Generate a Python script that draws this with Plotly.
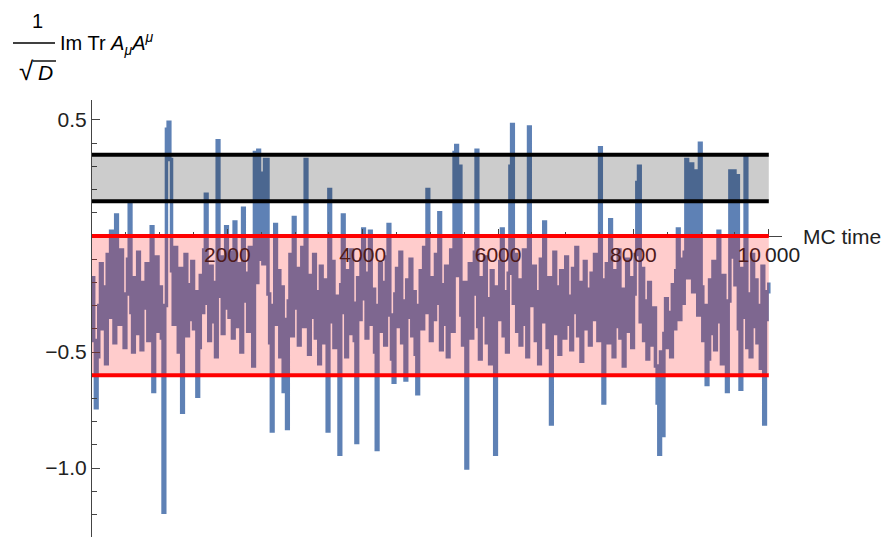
import plotly.graph_objects as go

step = 25
values = [
    -0.18, -0.45, -0.74, -0.52, -0.30, -0.12, -0.40, -0.22, -0.55, -0.08, -0.35, 0.02, -0.28, -0.46, 0.09, -0.15, -0.38, -0.06, -0.30, -0.48,
    -0.25, -0.10, 0.14, -0.33, -0.50, -0.18, -0.42, -0.07, -0.36, -0.49, -0.20, -0.31, -0.12, -0.45, -0.26, 0.04, -0.67, -0.34, -0.09, -0.41,
    -0.22, -0.44, -1.19, -0.30, 0.46, 0.49, 0.33, -0.15, -0.38, -0.05, -0.27, -0.50, -0.14, -0.76, -0.32, -0.08, -0.43, -0.21, -0.36, -0.11,
    -0.40, -0.24, -0.69, -0.48, -0.17, -0.33, -0.06, 0.18, -0.29, -0.45, -0.13, -0.37, -0.20, -0.52, 0.41, -0.26, -0.09, -0.42, -0.31, 0.04,
    -0.18, -0.35, -0.07, -0.44, 0.06, -0.23, -0.39, -0.12, -0.50, 0.12, -0.28, -0.16, -0.41, -0.05, -0.33, -0.56, 0.36, -0.20, 0.37, -0.10,
    0.27, -0.12, 0.33, 0.33, -0.25, -0.46, -0.84, -0.30, 0.05, -0.38, -0.15, -0.52, -0.22, -0.67, -0.36, -0.83, -0.28, -0.08, -0.43, 0.08,
    -0.31, -0.14, -0.47, -0.22, -0.05, -0.39, 0.33, -0.26, -0.51, -0.17, -0.35, -0.08, -0.44, -0.24, -0.55, -0.13, -0.32, -0.46, -0.19, -0.84,
    0.20, -0.37, -0.11, -0.48, -0.26, -0.40, -0.94, -0.21, 0.09, -0.33, -0.52, -0.15, -0.42, -0.06, -0.29, -0.45, -0.89, -0.18, -0.36, -0.10,
    0.03, -0.27, -0.44, -0.16, 0.02, -0.38, -0.23, -0.50, -0.92, -0.30, -0.12, -0.41, -0.20, -0.47, -0.09, 0.05, -0.34, -0.53, -0.63, -0.25,
    -0.14, -0.39, -0.07, -0.46, -0.28, -0.62, -0.19, -0.35, -0.10, -0.43, -0.24, -0.51, -0.68, -0.30, -0.15, -0.40, -0.05, -0.33, 0.20, -0.22,
    -0.45, -0.18, -0.36, -0.08, -0.29, 0.10, -0.49, -0.21, -0.38, -0.13, -0.52, -0.26, -0.06, -0.41, 0.36, 0.39, -0.17, 0.30, -0.34, -0.47,
    -0.20, -1.00, -0.31, -0.12, -0.44, -0.25, -0.07, 0.37, -0.39, -0.53, -0.18, -0.34, -0.09, -0.46, -0.27, -0.55, -0.15, -0.40, -0.94, -0.22,
    -0.36, -0.11, 0.03, -0.43, -0.24, -0.50, -0.16, 0.30, 0.48, -0.29, -0.08, -0.41, -0.19, -0.47, -0.33, -0.06, -0.38, -0.52, 0.47, -0.21,
    -0.30, -0.13, -0.45, -0.24, -0.55, -0.10, -0.37, 0.06, -0.28, -0.48, -0.18, -0.81, -0.35, -0.07, -0.42, -0.22, -0.51, -0.15, -0.32, -0.44,
    -0.09, -0.38, -0.26, -0.49, -0.14, -0.33, -0.05, -0.43, -0.20, -0.54, -0.29, -0.11, -0.40, -0.23, -0.47, -0.16, -0.36, -0.08, -0.31, -0.45,
    0.38, -0.19, -0.72, -0.34, -0.12, -0.46, 0.07, -0.27, -0.52, -0.15, -0.39, -0.06, -0.44, -0.23, -0.56, -0.30, -0.10, -0.41, -0.18, -0.48,
    -0.25, -0.08, 0.23, 0.30, -0.37, -0.14, -0.45, -0.28, -0.53, -0.20, -0.35, -0.47, -0.31, -0.56, -0.72, -0.94, -0.50, -0.86, -0.42, -0.27,
    -0.48, -0.33, -0.52, -0.21, -0.40, -0.15, 0.03, -0.36, -0.10, -0.29, -0.07, 0.33, -0.18, -0.05, 0.31, -0.24, 0.28, -0.12, -0.34, 0.40,
    -0.22, -0.45, -0.30, -0.64, -0.53, -0.19, -0.42, -0.11, -0.49, -0.26, 0.02, -0.37, -0.55, -0.17, -0.44, -0.67, -0.28, 0.28, -0.09, 0.28,
    -0.21, 0.26, -0.40, -0.66, -0.14, -0.35, 0.34, -0.48, -0.25, -0.52, -0.08, -0.39, -0.19, -0.46, -0.30, -0.57, -0.13, -0.81, -0.36, -0.24,
    -0.20,
]
mc_time = [i * step for i in range(len(values))]

# bands
gray_band = [0.15, 0.35]
pink_band = [-0.6, 0.0]
band_x = [0, 10000]

x_tickvals = [2000, 4000, 6000, 8000, 10000]
x_ticktext = ["2000", "4000", "6000", "8000", "10\u2009000"]
y_tickvals = [-1.0, -0.5, 0.5]
y_ticktext = ["\u22121.0", "\u22120.5", "0.5"]

# ---- layout geometry ----
W, H = 882, 537
ML, MR, MT, MB = 92, 100, 100, 0
XR = [0, 10195]
YR = [-1.297, 0.586]
pw, ph = W - ML - MR, H - MT - MB

def px(xp):
    return (xp - ML) / pw

def py(yp):
    return (H - MB - yp) / ph

FONT = "Liberation Sans, Arial, sans-serif"
BLUE = "#5E81B5"

fig = go.Figure()
fig.add_trace(go.Scatter(
    x=mc_time, y=values, mode="lines",
    line=dict(color=BLUE, width=3.5, shape="hv"), showlegend=False, hoverinfo="skip",
))

shapes = [
    dict(type="rect", xref="x", yref="y", x0=band_x[0], x1=band_x[1],
         y0=gray_band[0], y1=gray_band[1], fillcolor="rgba(0,0,0,0.2)",
         line=dict(width=0), layer="above"),
    dict(type="rect", xref="x", yref="y", x0=band_x[0], x1=band_x[1],
         y0=pink_band[0], y1=pink_band[1], fillcolor="rgba(255,0,0,0.2)",
         line=dict(width=0), layer="above"),
]
for yv in gray_band:
    shapes.append(dict(type="line", xref="x", yref="y", x0=band_x[0], x1=band_x[1],
                       y0=yv, y1=yv, line=dict(color="black", width=4), layer="above"))
for yv in pink_band:
    shapes.append(dict(type="line", xref="x", yref="y", x0=band_x[0], x1=band_x[1],
                       y0=yv, y1=yv, line=dict(color="red", width=4), layer="above"))
# fraction bar and radical vinculum of the axis label
shapes.append(dict(type="line", xref="paper", yref="paper", x0=px(13), x1=px(55),
                   y0=py(43), y1=py(43), line=dict(color="black", width=1.6)))
shapes.append(dict(type="line", xref="paper", yref="paper", x0=px(33), x1=px(56),
                   y0=py(61), y1=py(61), line=dict(color="black", width=1.4)))

annotations = [
    dict(text="1", x=px(38), y=py(21), xref="paper", yref="paper", showarrow=False,
         xanchor="center", yanchor="middle", font=dict(size=20, color="black", family=FONT)),
    dict(text="\u221a", x=px(26), y=py(71), xref="paper", yref="paper", showarrow=False,
         xanchor="center", yanchor="middle", font=dict(size=26, color="black", family=FONT)),
    dict(text="<i>D</i>", x=px(45), y=py(72), xref="paper", yref="paper", showarrow=False,
         xanchor="center", yanchor="middle", font=dict(size=21, color="black", family=FONT)),
    dict(text="Im Tr <i>A</i><sub><i>\u03bc</i></sub><i>A</i><sup><i>\u03bc</i></sup>", x=px(58), y=py(43),
         xref="paper", yref="paper", showarrow=False, xanchor="left", yanchor="middle",
         font=dict(size=20, color="black", family=FONT)),
    dict(text="MC time", x=px(801), y=0, xref="paper", yref="y", showarrow=False,
         xanchor="left", yanchor="middle", font=dict(size=21, color="#222", family=FONT)),
]

x_pos = (0 - YR[0]) / (YR[1] - YR[0])

fig.update_layout(
    width=W, height=H,
    margin=dict(l=ML, r=MR, t=MT, b=MB, pad=0),
    paper_bgcolor="white", plot_bgcolor="white",
    font=dict(family=FONT, size=21, color="#222"),
    shapes=shapes, annotations=annotations,
    xaxis=dict(
        range=XR, anchor="free", position=x_pos, side="bottom",
        showgrid=False, zeroline=False, showline=True, linecolor="#444", linewidth=1,
        tickmode="array", tickvals=x_tickvals, ticktext=x_ticktext,
        ticks="inside", ticklen=7, tickwidth=1, tickcolor="#444",
        minor=dict(ticks="inside", ticklen=4, tick0=0, dtick=500, tickcolor="#444", showgrid=False),
        tickfont=dict(size=21, color="#222", family=FONT),
    ),
    yaxis=dict(
        range=YR, anchor="x", showgrid=False, zeroline=False,
        showline=True, linecolor="#444", linewidth=1.2,
        tickmode="array", tickvals=y_tickvals, ticktext=y_ticktext,
        ticks="inside", ticklen=8, tickwidth=1, tickcolor="#444",
        minor=dict(ticks="inside", ticklen=5, tick0=0, dtick=0.1, tickcolor="#444", showgrid=False),
        tickfont=dict(size=21, color="#222", family=FONT),
    ),
)

fig.write_html("out.html")
